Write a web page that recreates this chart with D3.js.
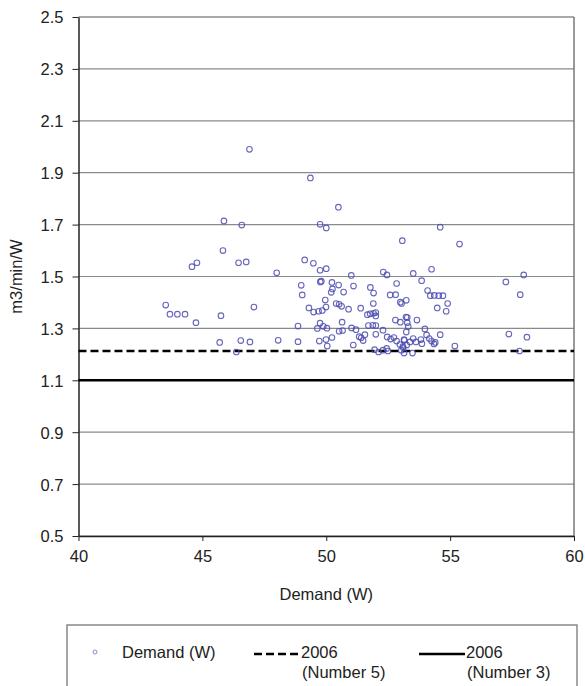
<!DOCTYPE html>
<html>
<head>
<meta charset="utf-8">
<script src="https://cdn.jsdelivr.net/npm/d3@7"></script>
<style>
  body { margin: 0; background: #fff; }
  text { font-family: Arial, "Liberation Sans", sans-serif; fill: #222; }
</style>
</head>
<body>
<div id="chart"></div>
<script>
// demand (W) of each unit
const demandW = [
  46.9, 45.87, 46.59, 45.83, 44.58, 44.78, 46.46, 46.77, 43.52, 43.69, 43.99, 44.3, 44.74, 45.75, 45.7, 46.55, 46.37, 46.92,
  49.36, 50.49, 49.75, 50.0, 53.07, 49.13, 49.48, 49.75, 50.0, 49.76, 49.8, 48.0, 51.01, 52.3, 52.45, 48.99, 49.03, 50.23,
  50.5, 50.2, 50.25, 50.7, 51.1, 51.78, 51.91, 52.58, 52.8, 52.84, 52.99, 53.23, 47.08, 49.3, 49.49, 49.69, 49.84, 49.99,
  49.96, 50.4, 50.52, 50.62, 50.9, 51.39, 51.66, 51.77, 51.91, 52.0, 52.0, 51.9, 50.64, 49.75, 48.86, 51.7, 51.88, 52.0,
  52.79, 52.99, 53.22, 49.64, 49.88, 50.03, 50.52, 50.66, 51.02, 51.2, 51.33, 51.49, 51.56, 52.0, 52.29,
  52.46, 52.6, 52.73, 52.84, 52.97, 53.09, 53.15, 53.25, 52.44, 52.49, 52.29,
  48.06, 48.86, 49.72, 49.99, 50.23, 50.04, 51.09, 51.41, 51.95, 52.11, 53.03, 53.14,
  54.6, 55.38, 53.51, 54.25, 53.85, 54.09, 54.2, 54.36, 54.54, 54.71, 54.9, 54.48, 54.84, 53.04, 53.27, 53.66,
  53.27, 53.31, 53.23, 53.98, 54.05, 54.16, 54.6, 53.14, 53.38, 53.51, 53.62, 53.82, 53.86, 54.25, 54.35, 54.4,
  53.11, 53.48, 55.19, 57.25, 57.97, 57.83, 57.37, 58.1, 57.8
];
// m3/min/W of each unit
const ratio = [
  1.99, 1.714, 1.698, 1.6, 1.538, 1.553, 1.553, 1.556, 1.39, 1.355, 1.355, 1.355, 1.322, 1.349, 1.246, 1.253, 1.209, 1.248,
  1.88, 1.767, 1.701, 1.687, 1.638, 1.564, 1.551, 1.524, 1.53, 1.479, 1.482, 1.514, 1.504, 1.517, 1.506, 1.466, 1.429, 1.477,
  1.467, 1.439, 1.452, 1.44, 1.463, 1.458, 1.436, 1.429, 1.43, 1.473, 1.401, 1.408, 1.382, 1.379, 1.363, 1.366, 1.369, 1.382,
  1.409, 1.396, 1.393, 1.385, 1.374, 1.378, 1.353, 1.356, 1.358, 1.361, 1.348, 1.396, 1.324, 1.32, 1.309, 1.311, 1.312, 1.311,
  1.332, 1.324, 1.344, 1.3, 1.308, 1.301, 1.289, 1.292, 1.302, 1.295, 1.268, 1.253, 1.276, 1.277, 1.293,
  1.267, 1.259, 1.265, 1.251, 1.238, 1.23, 1.254, 1.236, 1.223, 1.213, 1.216,
  1.254, 1.249, 1.251, 1.257, 1.265, 1.232, 1.236, 1.264, 1.218, 1.209, 1.216, 1.205,
  1.69, 1.625, 1.512, 1.528, 1.484, 1.446, 1.426, 1.427, 1.426, 1.426, 1.396, 1.379, 1.366, 1.396, 1.342, 1.332,
  1.322, 1.307, 1.286, 1.298, 1.275, 1.261, 1.276, 1.257, 1.248, 1.261, 1.248, 1.257, 1.241, 1.251, 1.24, 1.246,
  1.226, 1.205, 1.232, 1.479, 1.506, 1.43, 1.278, 1.266, 1.213
];

const xTicks = [40, 45, 50, 55, 60];
const yTicks = [0.5, 0.7, 0.9, 1.1, 1.3, 1.5, 1.7, 1.9, 2.1, 2.3, 2.5];
const refNames = ["2006\n(Number 5)", "2006\n(Number 3)"];
const refValues = [1.213, 1.1];

const W = 585, H = 686;
const margin = { top: 17, right: 11, bottom: 150, left: 78.5 };
const width = W - margin.left - margin.right;
const height = H - margin.top - margin.bottom;

const svg = d3.select("#chart").append("svg")
  .attr("width", W).attr("height", H);

const g = svg.append("g")
  .attr("transform", `translate(${margin.left},${margin.top})`);

const x = d3.scaleLinear().domain([40, 60]).range([0, width]);
const y = d3.scaleLinear().domain([0.5, 2.5]).range([height, 0]);

// grid lines
g.selectAll(".grid").data(yTicks).enter().append("line")
  .attr("x1", 0).attr("x2", width)
  .attr("y1", d => y(d)).attr("y2", d => y(d))
  .attr("stroke", d => d === 2.5 ? "#555" : "#8a8a8a")
  .attr("stroke-width", 1.2);

// right border
g.append("line")
  .attr("x1", width).attr("x2", width).attr("y1", 0).attr("y2", height)
  .attr("stroke", "#777").attr("stroke-width", 1.5);

// axes
const yAxis = g.append("g")
  .call(d3.axisLeft(y).tickValues(yTicks).tickFormat(d3.format(".1f")).tickSize(6).tickSizeOuter(0));
const xAxis = g.append("g")
  .attr("transform", `translate(0,${height})`)
  .call(d3.axisBottom(x).tickValues(xTicks).tickSize(5).tickSizeOuter(0));

[xAxis, yAxis].forEach(a => {
  a.select(".domain").attr("stroke", "#222").attr("stroke-width", 1.5);
  a.selectAll(".tick line").attr("stroke", "#222");
  a.selectAll("text").style("font-size", "16.5px").style("font-family", "Arial, 'Liberation Sans', sans-serif").attr("fill", "#2a2a2a");
});
yAxis.selectAll("text").attr("x", -15).attr("dy", "0.36em");
xAxis.selectAll("text").attr("y", 14).attr("dy", "0.71em");

// reference lines
g.selectAll(".ref").data(refValues).enter().append("line")
  .attr("x1", 0).attr("x2", width)
  .attr("y1", d => y(d)).attr("y2", d => y(d))
  .attr("stroke", "#000").attr("stroke-width", 2.6)
  .attr("stroke-dasharray", (d, i) => i === 0 ? "8,4" : null);

// points
g.selectAll(".pt").data(demandW.map((d, i) => [d, ratio[i]])).enter().append("circle")
  .attr("cx", d => x(d[0])).attr("cy", d => y(d[1]))
  .attr("r", 2.8)
  .attr("fill", "none")
  .attr("stroke", "#4a4ab0")
  .attr("stroke-opacity", 0.85)
  .attr("stroke-width", 1.1);

// axis titles
svg.append("text")
  .attr("x", margin.left + width / 2).attr("y", 600)
  .attr("text-anchor", "middle").style("font-size", "16.5px")
  .text("Demand (W)");

svg.append("text")
  .attr("transform", `translate(22,${margin.top + height / 2}) rotate(-90)`)
  .attr("text-anchor", "middle").style("font-size", "16.5px")
  .text("m3/min/W");

// legend
const lg = svg.append("g");
lg.append("rect")
  .attr("x", 67).attr("y", 625).attr("width", 510).attr("height", 80)
  .attr("fill", "#fff").attr("stroke", "#888").attr("stroke-width", 1.5);

lg.append("circle").attr("cx", 95).attr("cy", 652).attr("r", 2)
  .attr("fill", "none").attr("stroke", "#8a8ac8").attr("stroke-width", 1);
lg.append("text").attr("x", 122).attr("y", 658).style("font-size", "16.5px").text("Demand (W)");

const legX = [254, 419];
refNames.forEach((name, i) => {
  lg.append("line")
    .attr("x1", legX[i]).attr("x2", legX[i] + 46)
    .attr("y1", 654).attr("y2", 654)
    .attr("stroke", "#000").attr("stroke-width", 2.6)
    .attr("stroke-dasharray", i === 0 ? "8,4" : null);
  const t = lg.append("text").attr("x", legX[i] + 47).attr("y", 658).style("font-size", "16.5px");
  name.split("\n").forEach((s, k) => {
    t.append("tspan").attr("x", legX[i] + 47 + (k ? 1 : 0)).attr("dy", k ? 20 : 0).text(s);
  });
});
</script>
</body>
</html>
